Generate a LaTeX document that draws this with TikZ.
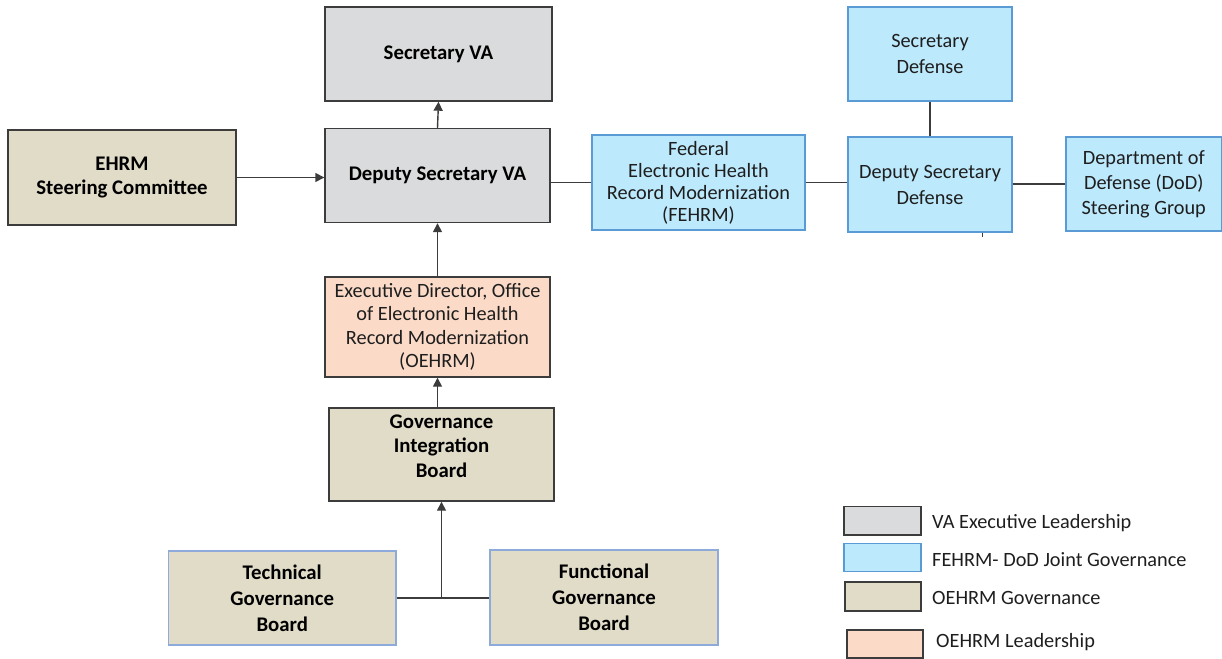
\documentclass[tikz,border=0pt]{standalone}
\usepackage{fontspec}
\setmainfont{Carlito}
\usetikzlibrary{arrows.meta,calc}
\definecolor{vagray}{HTML}{DADBDC}
\definecolor{fblue}{HTML}{BDE9FC}
\definecolor{fbluedraw}{HTML}{5B9BD5}
\definecolor{obeige}{HTML}{E1DCC8}
\definecolor{opeach}{HTML}{FBDBC8}
\definecolor{darkline}{HTML}{3C3C3C}
\definecolor{lightblueline}{HTML}{8EAADB}
\definecolor{txt}{HTML}{1E1E1E}
\begin{document}
\begin{tikzpicture}[x=1pt,y=-1pt,
  basebox/.style={rectangle, inner sep=0pt, align=center, line width=1.4pt,
    font=\fontsize{20.3}{22}\selectfont, text=txt},
  grayb/.style={basebox, fill=vagray, draw=darkline},
  blueb/.style={basebox, fill=fblue, draw=fbluedraw},
  beigeb/.style={basebox, fill=obeige, draw=darkline},
  beigelb/.style={basebox, fill=obeige, draw=lightblueline},
  peachb/.style={basebox, fill=opeach, draw=darkline, font=\fontsize{20.3}{23.5}\selectfont},
  boldt/.style={font=\fontsize{20.8}{24.5}\selectfont\bfseries, text=black},
  conn/.style={draw=darkline, line width=1.4pt},
  arr/.style={conn, -{Triangle[length=9pt,width=9pt]}},
  legtext/.style={anchor=west, inner sep=0pt, font=\fontsize{20.3}{22}\selectfont, text=txt}
]
\useasboundingbox (0,0) rectangle (1222,658);

% VA
\node[grayb, boldt, minimum width=227pt, minimum height=94pt] (secva) at (438.5,54) {Secretary VA};
\node[grayb, boldt, minimum width=225pt, minimum height=94pt] (depva) at (437.5,175.5) {Deputy Secretary VA};
\node[beigeb, boldt, minimum width=228pt, minimum height=95pt] (ehrm) at (122,177.5) {EHRM\\Steering Committee};

% FEHRM / DoD
\node[blueb, minimum width=213pt, minimum height=95pt] (fehrm) at (698.5,182.5) {Federal\\Electronic Health\\Record Modernization\\(FEHRM)};
\node[blueb, font=\fontsize{20.3}{26}\selectfont, minimum width=164pt, minimum height=94pt] (secdef) at (930,54) {Secretary\\Defense};
\node[blueb, font=\fontsize{20.3}{26}\selectfont, minimum width=164pt, minimum height=95pt] (depdef) at (930,184.5) {Deputy Secretary\\Defense};
\node[blueb, font=\fontsize{20.3}{25}\selectfont, minimum width=155.5pt, minimum height=94pt] (dod) at (1143.75,184) {Department of\\Defense (DoD)\\Steering Group};

% OEHRM
\node[peachb, minimum width=225pt, minimum height=100pt] (exec) at (437.5,327) {Executive Director, Office\\of Electronic Health\\Record Modernization\\(OEHRM)};
\node[beigeb, minimum width=225pt, minimum height=93pt] (gib) at (441.5,454.5) {};
\node[inner sep=0pt, align=center, boldt] (gibtext) at (441.5,446) {Governance\\Integration\\Board};
\node[beigelb, boldt, font=\fontsize{20.8}{26}\selectfont\bfseries, minimum width=227.5pt, minimum height=94pt] (tech) at (282.25,598) {Technical\\Governance\\Board};
\node[beigelb, boldt, font=\fontsize{20.8}{26}\selectfont\bfseries, minimum width=228pt, minimum height=95pt] (func) at (604,597.5) {Functional\\Governance\\Board};

% connectors
\draw[arr] (ehrm.east) -- (ehrm.east -| depva.west);
\draw[arr] (depva.north) -- (secva.south);
\draw[arr] (exec.north) -- (depva.south);
\draw[arr] (gib.north -| exec.south) -- (exec.south);
\draw[conn] (depva.east |- fehrm.west) -- (fehrm.west);
\draw[conn] (fehrm.east) -- (fehrm.east -| depdef.west);
\draw[conn] (secdef.south) -- (depdef.north);
\draw[conn] (depdef.east |- dod.west) -- (dod.west);
\coordinate (tick) at ($(depdef.south)+(52,0)$);
\draw[conn, line width=1pt] (tick) -- ++(0,4);
\draw[conn] (tech.east) -- (tech.east -| func.west);
\coordinate (jn) at (tech.east -| gib.south);
\draw[arr] (jn) -- (gib.south);

% legend
\node[grayb, minimum width=77pt, minimum height=28.5pt] (lg1) at (882.5,520.75) {};
\node[blueb, minimum width=77pt, minimum height=28.5pt] (lg2) at (882.5,557.5) {};
\node[beigeb, minimum width=76pt, minimum height=29pt] (lg3) at (883,596.5) {};
\node[peachb, minimum width=76pt, minimum height=28pt] (lg4) at (885,644) {};
\node[legtext] (lt1) at (932,523) {VA Executive Leadership};
\node[legtext] (lt2) at (932,560) {FEHRM- DoD Joint Governance};
\node[legtext] (lt3) at (932,598) {OEHRM Governance};
\node[legtext] (lt4) at (936,642) {OEHRM Leadership};
\end{tikzpicture}
\end{document}
